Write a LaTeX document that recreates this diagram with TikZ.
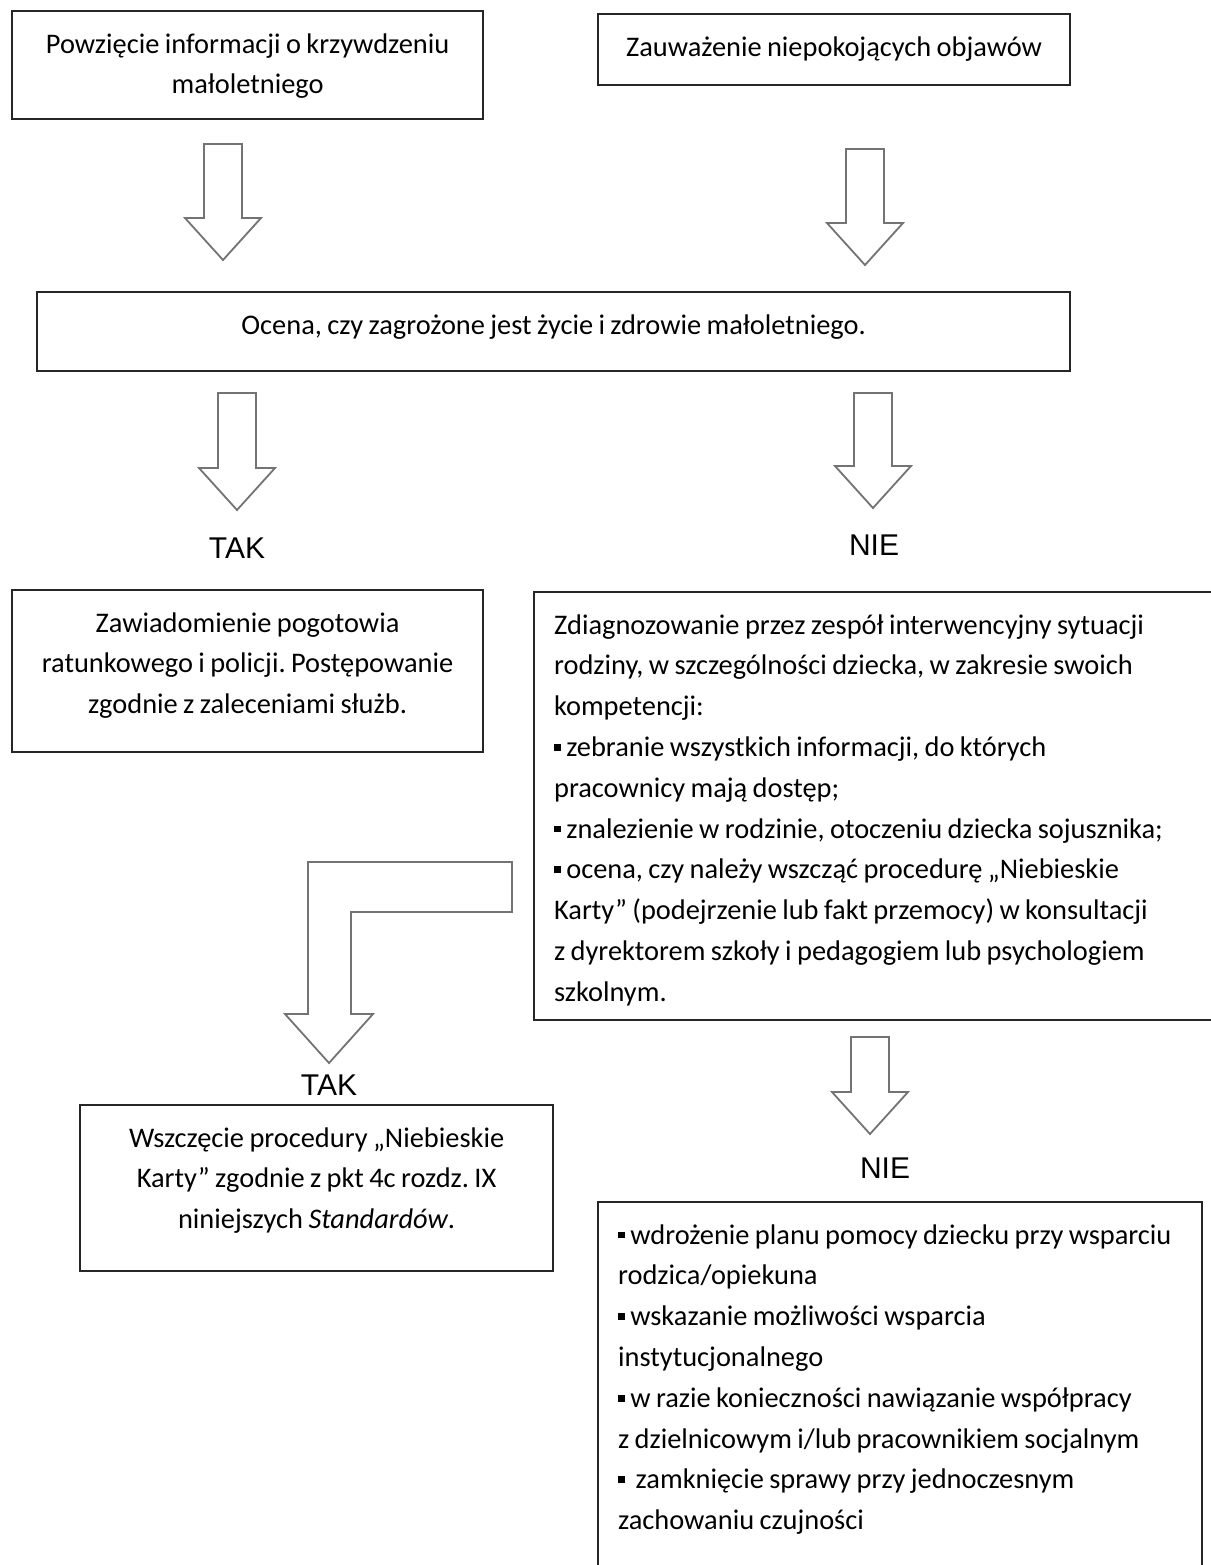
\documentclass[tikz,border=0pt]{standalone}
\usepackage{fontspec}
\setmainfont{Carlito}
\newfontfamily\arialfont{Liberation Sans}
\newcommand{\kwadr}{\raisebox{0.2em}{\rule{0.24em}{0.24em}}}
\frenchspacing

\tikzset{
  ramka/.style={draw=black!85, line width=1.1pt, anchor=north west,
    inner xsep=2pt, inner ysep=10pt, text height=11pt, align=center,
    font=\fontsize{14.2}{20.4}\selectfont,
    execute at begin node={\spaceskip=0.19em\relax}},
  lewa/.style={inner xsep=10pt, align=left},
  decyzja/.style={font=\arialfont\fontsize{15}{18}\selectfont, inner sep=0pt},
  blokstrz/.style={draw=black!55, fill=white, line width=0.9pt},
  pics/strz/.style={code={
    \draw[blokstrz] (-19,0) -- (19,0) -- (19,#1) -- (38,#1) -- (0,#1+42)
      -- (-38,#1) -- (-19,#1) -- cycle;
  }}
}

\begin{document}
\begin{tikzpicture}[x=0.5pt, y=-0.5pt]
    \path[fill=white, use as bounding box] (0,0) rectangle (1211,1565);
    \clip (0,0) rectangle (1211,1565);

    % Starting points
    \node[ramka, text width=231.5pt, text depth=23pt] (powziecie) at (11,10)
        {Powzięcie informacji o krzywdzeniu\\ małoletniego};
    \node[ramka, text width=232pt, text depth=4.5pt] (objawy) at (597,13)
        {Zauważenie niepokojących objawów};

    \pic at (223,144) {strz=74};
    \pic at (865,149) {strz=74};

    % Assessment
    \node[ramka, text width=512.5pt, text depth=8.5pt] (ocena) at (36,291)
        {Ocena, czy zagrożone jest życie i zdrowie małoletniego.};

    \pic at (237,393) {strz=75};
    \pic at (873,393) {strz=73};

    \node[decyzja] (tak1) at (237,548) {TAK};
    \node[decyzja] (nie1) at (874,545) {NIE};

    % TAK branch
    \node[ramka, text width=231.5pt, text depth=50pt] (pogotowie) at (11,589)
        {Zawiadomienie pogotowia\\ ratunkowego i policji. Postępowanie\\ zgodnie z zaleceniami służb.};

    % NIE branch
    \node[ramka, lewa, text width=340pt, text depth=183pt] (diagnoza) at (533,591)
        {Zdiagnozowanie przez zespół interwencyjny sytuacji\\
         rodziny, w szczególności dziecka, w zakresie swoich\\
         kompetencji:\\
         \kwadr{} zebranie wszystkich informacji, do których\\
         pracownicy mają dostęp;\\
         \kwadr{} znalezienie w rodzinie, otoczeniu dziecka sojusznika;\\
         \kwadr{} ocena, czy należy wszcząć procedurę „Niebieskie\\
         Karty” (podejrzenie lub fakt przemocy) w konsultacji\\
         z dyrektorem szkoły i pedagogiem lub psychologiem\\
         szkolnym.};

    % Bent arrow to the left
    \draw[blokstrz] (512,862) -- (308,862) -- (308,1014) -- (285,1014) -- (329,1063)
        -- (373,1014) -- (351,1014) -- (351,912) -- (512,912) -- cycle;
    \node[decyzja] (tak2) at (329,1085) {TAK};

    \node[ramka, text width=232.5pt, text depth=52pt] (procedura) at (79,1104)
        {Wszczęcie procedury „Niebieskie\\ Karty” zgodnie z pkt 4c rozdz. IX\\
         niniejszych \textit{Standardów}.};

    \pic at (870,1037) {strz=55};
    \node[decyzja] (nie2) at (885,1168) {NIE};

    \node[ramka, lewa, text width=282pt, text depth=178.5pt] (wsparcie) at (597,1201)
        {\mbox{\kwadr{} wdrożenie planu pomocy dziecku przy wsparciu}\\
         rodzica/opiekuna\\
         \kwadr{} wskazanie możliwości wsparcia\\
         instytucjonalnego\\
         \kwadr{} w razie konieczności nawiązanie współpracy\\
         z dzielnicowym i/lub pracownikiem socjalnym\\
         \kwadr{}\ \ zamknięcie sprawy przy jednoczesnym\\
         zachowaniu czujności};
\end{tikzpicture}
\end{document}
